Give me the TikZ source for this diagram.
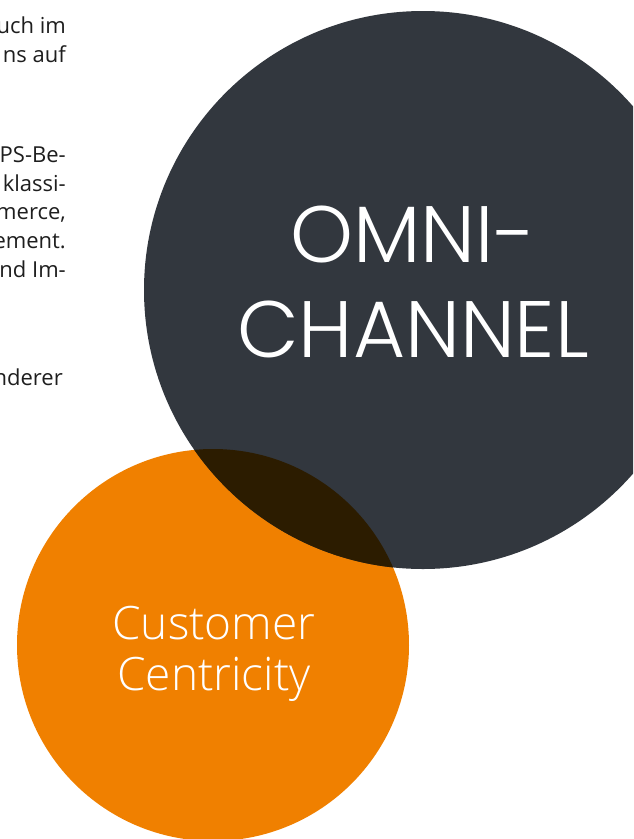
\documentclass[tikz,border=0pt]{standalone}
\usepackage{fontspec}
\setmainfont{Open Sans}
\IfFontExistsTF{Poppins Light}{\newfontfamily\headfont{Poppins Light}}{\newfontfamily\headfont{Poppins}}
\IfFontExistsTF{Open Sans Light}{\newfontfamily\claimfont{Open Sans Light}}{\newfontfamily\claimfont{Lato Light}}
\usepackage{xcolor}
\definecolor{omnigray}{RGB}{50, 55, 62}
\definecolor{ccorange}{RGB}{240, 128, 0}
\definecolor{overlapbrown}{RGB}{44, 28, 0}
\definecolor{bodytext}{RGB}{30, 30, 30}
\usepackage{tikz}
\usetikzlibrary{positioning}

\begin{document}
\begin{tikzpicture}[x=1pt, y=-1pt,
    bodyline/.style={anchor=base east, inner sep=0pt, text=bodytext,
      font=\fontsize{22}{26}\selectfont},
    headline/.style={text=white, align=center, inner sep=0pt,
      font=\headfont\fontsize{80}{95}\selectfont},
    claimline/.style={text=white, align=center, inner sep=0pt,
      font=\claimfont\fontsize{46}{51}\selectfont}]
  \useasboundingbox (0,0) rectangle (633,839);
  \clip (0,0) rectangle (633,839);
  % Running text, cut off at the left
  \foreach \ypos/\txt in {33/uch im, 62/ns auf, 162/PS-Be-, 191/klassi-,
      219/{merce,}, 248/ement., 277/nd Im-}
    \node[bodyline] (line\ypos) at (66,\ypos) {\txt};
  \node[bodyline] (line385) at (63,385) {nderer};
  % Circles
  \fill[ccorange] (213,645) circle[radius=196];
  \fill[omnigray] (423,290) circle[radius=279];
  % Overlap of both circles
  \begin{scope}
    \clip (213,645) circle[radius=196];
    \fill[overlapbrown] (423,290) circle[radius=279];
  \end{scope}
  % Labels
  \node[headline] (omni) at (413,282) {OMNI-\\CHANNEL};
  \node[claimline] (claim) at (214,654) {Customer\\Centricity};
\end{tikzpicture}
\end{document}
